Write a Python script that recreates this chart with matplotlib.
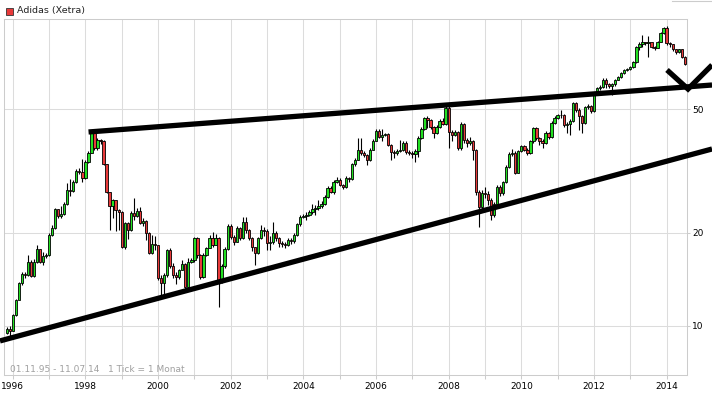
# adidas_monthly.py

import numpy as np
import pandas as pd
import matplotlib
matplotlib.use("Agg")
import matplotlib.pyplot as plt
from matplotlib.patches import Rectangle
from matplotlib.lines import Line2D

# 1. Monthly candles Nov 1995 - Jul 2014 (open = previous close)

first_open = 9.5
close = [9.78, 9.64,
         10.85, 12.13, 13.76, 14.7, 14.6, 16.1, 14.5, 16.1, 17.7, 16.1, 16.8, 16.95,
         19.66, 20.7, 23.8, 22.6, 22.95, 24.75, 27.5, 27.3, 29.1, 31.6, 31.3, 30.0,
         33.8, 36.2, 41.9, 37.5, 39.8, 39.5, 33.3, 27.1, 24.4, 25.5, 23.7, 23.3,
         18.0, 21.5, 20.4, 23.2, 22.6, 23.5, 21.5, 21.8, 19.9, 17.2, 18.4, 18.25,
         14.3, 13.8, 14.6, 17.6, 15.6, 14.6, 14.4, 15.2, 15.85, 13.4, 16.1, 16.3,
         19.2, 16.95, 14.4, 16.95, 17.8, 19.2, 18.25, 19.2, 14.1, 15.6, 17.7, 21.0,
         19.4, 18.7, 20.7, 19.2, 21.6, 20.4, 19.2, 18.0, 17.2, 19.2, 20.4, 20.2,
         18.5, 18.7, 19.9, 19.2, 18.5, 18.4, 18.25, 18.9, 18.8, 19.7, 21.3, 22.5,
         22.6, 22.8, 23.3, 23.8, 24.0, 24.4, 24.8, 26.0, 27.9, 27.1, 29.1, 29.6,
         28.5, 28.1, 30.0, 29.8, 33.3, 34.3, 37.0, 36.2, 35.6, 34.3, 37.0, 39.5,
         42.5, 40.7, 41.3, 41.6, 38.4, 36.4, 36.2, 36.7, 37.0, 39.0, 36.4, 36.2,
         35.9, 36.7, 40.4, 43.2, 46.9, 46.2, 43.9, 41.8, 43.9, 45.9, 44.9, 50.5,
         42.3, 41.3, 42.3, 37.5, 44.9, 39.8, 38.9, 39.5, 37.0, 27.1, 24.2, 26.9,
         26.7, 25.5, 22.8, 24.8, 28.1, 26.9, 29.1, 32.6, 35.9, 36.2, 31.2, 36.7,
         37.9, 37.0, 36.2, 39.3, 43.5, 40.4, 39.5, 39.0, 42.0, 40.7, 45.2, 46.9,
         47.7, 48.0, 44.5, 44.9, 45.9, 52.4, 49.8, 47.6, 45.2, 50.9, 51.3, 49.1,
         56.1, 58.5, 59.0, 62.2, 60.0, 59.1, 60.0, 62.2, 63.3, 65.1, 67.0, 67.5,
         68.5, 71.1, 79.5, 80.7, 82.0, 81.4, 82.0, 79.5, 78.9, 82.5, 88.2, 91.2,
         81.3, 80.7, 77.8, 76.2, 77.8, 73.8, 70.0]
high = [9.95, 10.0,
        10.95, 12.25, 13.9, 14.9, 14.9, 16.95, 16.3, 16.4, 18.3, 17.7, 17.3, 17.2,
        19.9, 21.2, 24.0, 23.9, 24.3, 25.0, 28.9, 29.8, 29.5, 32.0, 32.2, 34.5,
        34.3, 36.6, 42.3, 42.6, 40.4, 40.0, 39.6, 33.3, 27.1, 25.7, 25.5, 23.8,
        23.4, 21.7, 21.6, 23.4, 25.9, 24.0, 24.2, 22.3, 22.0, 20.1, 19.7, 19.5,
        18.3, 14.6, 14.8, 17.7, 17.8, 15.9, 14.9, 15.3, 16.3, 16.0, 16.5, 16.6,
        19.3, 19.3, 17.0, 17.2, 18.0, 19.7, 20.1, 19.8, 19.4, 15.8, 17.9, 21.3,
        21.3, 19.6, 21.0, 20.8, 22.5, 22.4, 20.5, 19.4, 18.0, 19.4, 21.2, 20.8,
        20.5, 19.5, 21.7, 20.2, 19.4, 18.8, 18.7, 19.2, 19.2, 19.9, 21.5, 22.8,
        23.0, 23.3, 23.7, 24.8, 24.5, 25.5, 25.2, 26.4, 28.3, 28.3, 29.5, 30.2,
        30.0, 28.7, 30.5, 30.3, 33.6, 34.8, 40.3, 40.3, 36.5, 35.7, 37.5, 40.0,
        43.0, 43.0, 43.0, 42.0, 41.8, 38.6, 36.8, 37.2, 39.8, 39.4, 39.3, 36.8,
        36.6, 37.2, 40.8, 43.6, 47.3, 47.5, 46.5, 44.0, 44.3, 46.3, 46.9, 52.0,
        51.5, 42.8, 42.8, 42.5, 45.3, 45.0, 40.2, 40.5, 39.8, 37.3, 27.5, 27.5,
        28.0, 27.2, 25.8, 25.0, 28.4, 28.5, 29.4, 32.9, 36.3, 37.3, 36.5, 37.0,
        38.3, 38.4, 37.5, 39.6, 43.9, 43.6, 40.6, 39.9, 42.4, 42.3, 45.6, 47.4,
        48.2, 49.5, 48.3, 45.5, 46.3, 52.8, 52.8, 50.2, 47.8, 51.3, 52.0, 51.5,
        56.5, 59.0, 59.8, 62.8, 63.0, 60.5, 60.5, 62.7, 63.8, 65.6, 67.5, 68.0,
        69.0, 71.6, 80.0, 82.0, 86.9, 82.3, 85.7, 82.3, 80.0, 83.0, 88.8, 91.8,
        92.9, 82.0, 80.8, 78.0, 78.3, 78.0, 74.0]
low = [9.4, 9.2,
       9.6, 10.8, 12.3, 13.6, 14.3, 14.5, 14.4, 14.4, 16.0, 15.9, 15.7, 16.5,
       16.8, 19.5, 20.6, 22.3, 22.2, 22.8, 24.5, 26.3, 27.0, 28.8, 30.8, 29.0,
       29.8, 33.5, 36.0, 37.0, 37.0, 38.5, 33.0, 26.8, 20.4, 22.3, 20.2, 20.4,
       17.8, 17.7, 19.0, 20.2, 22.0, 22.4, 21.3, 21.0, 18.9, 17.0, 17.0, 17.6,
       14.1, 12.4, 12.4, 14.4, 15.4, 14.3, 13.7, 14.2, 15.1, 13.1, 13.3, 15.9,
       16.1, 16.6, 14.2, 14.3, 16.8, 17.8, 18.0, 18.2, 11.5, 13.8, 15.4, 17.6,
       19.1, 18.2, 18.6, 18.9, 19.0, 20.0, 18.9, 17.5, 15.7, 17.0, 19.0, 19.5,
       17.6, 17.6, 18.4, 18.8, 18.0, 17.9, 17.8, 18.1, 18.4, 18.5, 19.5, 21.0,
       22.2, 22.0, 22.6, 23.0, 22.8, 23.7, 24.0, 24.6, 25.8, 26.8, 26.7, 28.8,
       28.2, 27.6, 27.9, 29.2, 29.6, 32.8, 34.2, 35.5, 35.0, 33.1, 34.0, 36.8,
       39.3, 40.2, 39.5, 41.0, 38.0, 34.3, 34.8, 35.5, 36.3, 36.5, 35.9, 35.6,
       34.8, 33.8, 35.0, 40.0, 42.8, 43.5, 43.2, 40.3, 41.5, 43.5, 44.3, 44.5,
       37.5, 39.5, 40.8, 36.8, 37.0, 39.0, 37.8, 38.3, 34.3, 26.5, 20.8, 23.8,
       25.8, 24.6, 22.0, 22.5, 24.5, 26.3, 26.5, 28.8, 32.3, 35.3, 30.8, 31.0,
       36.3, 36.5, 35.6, 35.8, 39.0, 39.7, 38.4, 37.5, 38.6, 40.0, 40.3, 44.8,
       46.3, 46.8, 43.8, 42.0, 41.3, 45.5, 49.0, 42.9, 41.9, 44.8, 50.0, 48.5,
       48.8, 55.5, 57.5, 58.5, 58.3, 58.5, 55.4, 59.5, 61.8, 62.8, 64.8, 66.5,
       67.0, 68.0, 70.5, 77.5, 79.5, 80.2, 73.8, 78.5, 77.5, 78.5, 82.0, 87.5,
       80.5, 79.5, 77.0, 75.0, 75.5, 73.0, 69.5]

# hand drawn trend lines (decimal year, price)
upper_line_x = [1998.087, 2015.249]
upper_line_y = [42.17, 59.75]
lower_line_x = [1995.650, 2015.249]
lower_line_y = [8.95, 37.17]
check_x = [2014.010, 2014.588, 2015.249]
check_y = [66.8, 58.0, 69.3]

price_ticks = [10, 20, 50]
years = list(range(1996, 2015))

# 2. Derived arrays
months = pd.period_range("1995-11", "2014-07", freq="M")
x = months.year + (months.month - 1) / 12.0
close = np.array(close)
high = np.array(high)
low = np.array(low)
opens = np.concatenate([[first_open], close[:-1]])
up = close >= opens

# 3. Figure
plt.rcParams['font.family'] = ['DejaVu Sans']
fig = plt.figure(figsize=(7.12, 3.95), dpi=100)
ax = fig.add_axes([4 / 712, 20 / 395, 682.7 / 712, 356 / 395])
ax.set_yscale('log')
ax.set_xlim(1995.76, 2014.552)
ax.set_ylim(6.95, 97.5)

# grid + frame
grid_col = '#dcdcdc'
ax.set_xticks(years)
ax.set_xticklabels([str(y) if y % 2 == 0 else '' for y in years])
ax.set_yticks(price_ticks)
ax.set_yticklabels([str(p) for p in price_ticks])
ax.yaxis.set_minor_locator(matplotlib.ticker.NullLocator())
ax.yaxis.tick_right()
ax.grid(True, color=grid_col, linewidth=0.75, zorder=0)
ax.set_axisbelow(True)
for s in ax.spines.values():
    s.set_color('#cccccc')
    s.set_linewidth(0.75)
ax.tick_params(axis='x', length=3, width=0.75, color='#cccccc', pad=2,
               labelsize=6.5, labelcolor='black')
ax.tick_params(axis='y', length=2, width=0.75, color='#cccccc', pad=2,
               labelsize=6.5, labelcolor='black')

# 4. Candles
ax.vlines(x, low, high, color='black', linewidth=0.8, zorder=2)
bottoms = np.minimum(opens, close)
heights = np.abs(close - opens)
colors = np.where(up, '#22e022', '#e83a3a')
ax.bar(x, heights, bottom=bottoms, width=0.064, color=colors,
       edgecolor='black', linewidth=0.6, zorder=3)

# 5. Trend lines (run past the frame)
for lx, ly in [(upper_line_x, upper_line_y), (lower_line_x, lower_line_y), (check_x, check_y)]:
    ax.plot(lx, ly, color='black', linewidth=3.8, solid_capstyle='butt',
            solid_joinstyle='miter', clip_on=False, zorder=5)

# 6. Texts
fig.patches.append(Rectangle((5.5 / 712, 1 - 14.5 / 395), 7 / 712, 7 / 395,
                             transform=fig.transFigure, facecolor='#e83a3a',
                             edgecolor='#333333', linewidth=0.6))
fig.text(17 / 712, 1 - 10.5 / 395, 'Adidas (Xetra)', fontsize=6.8,
         color='#222222', va='center', ha='left')
fig.text(10 / 712, 1 - 369 / 395, '01.11.95 - 11.07.14   1 Tick = 1 Monat',
         fontsize=6.5, color='#a0a0a0', va='center', ha='left')
fig.lines.append(Line2D([672 / 712, 1], [1 - 0.5 / 395, 1 - 0.5 / 395],
                        transform=fig.transFigure, color='#cccccc', linewidth=0.8))

fig.savefig('out.png', dpi=100)
